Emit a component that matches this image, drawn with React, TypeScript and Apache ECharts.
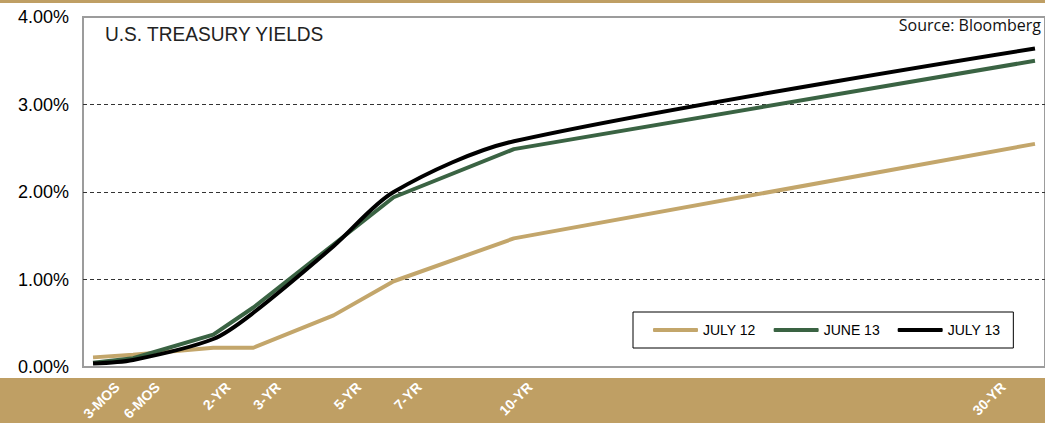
import React, { useEffect, useRef } from "react";
import * as echarts from "echarts";

// Category slots of the chart's maturity axis (blank slots keep Excel's uneven spacing)
const categories = [
  "3-MOS", "", "6-MOS", "", "", "", "2-YR", "", "3-YR", "", "", "", "5-YR", "", "", "7-YR",
  "", "", "", "", "", "10-YR", "", "", "", "", "", "", "", "", "", "",
  "", "", "", "", "", "", "", "", "", "", "", "", "", "", "", "30-YR",
];
const tenors = ["3-MOS", "6-MOS", "2-YR", "3-YR", "5-YR", "7-YR", "10-YR", "30-YR"];
const july12 = [0.11, 0.14, 0.22, 0.22, 0.59, 0.98, 1.47, 2.55];
const june13 = [0.05, 0.1, 0.37, 0.68, 1.4, 1.94, 2.49, 3.5];
const july13 = [0.04, 0.08, 0.32, 0.62, 1.38, 2.0, 2.58, 3.64];
const seriesNames = ["JULY 12", "JUNE 13", "JULY 13"];
const yTicks = [0, 1, 2, 3, 4];

// Tick label slots for the rotated tenor labels
const tickLabels = (() => {
  const arr: string[] = new Array(89).fill("");
  const at = [0, 4, 11, 16, 24, 30, 41, 88];
  tenors.forEach((t, i) => (arr[at[i]] = t));
  return arr;
})();

const toSlots = (vals: number[]) =>
  categories.map((c) => {
    const i = tenors.indexOf(c);
    return i >= 0 ? vals[i] : null;
  });

const FONT = "'Liberation Sans', Arial, sans-serif";

export default function App() {
  const ref = useRef<HTMLDivElement>(null);
  useEffect(() => {
    if (!ref.current) return;
    const chart = echarts.init(ref.current, null, { renderer: "svg" });
    const colors = ["#C3A66B", "#3A6343", "#000000"];
    const data = [july12, june13, july13];
    chart.setOption({
      animation: false,
      backgroundColor: "#ffffff",
      graphic: [
        { type: "rect", z: -10, shape: { x: 0, y: 0, width: 1045, height: 3 }, style: { fill: "#BF9F64" } },
        { type: "rect", z: -10, shape: { x: 0, y: 378, width: 1045, height: 45 }, style: { fill: "#BF9F64" } },
        {
          type: "text",
          x: 105,
          y: 23,
          scaleX: 0.91,
          style: { text: "U.S. TREASURY YIELDS", fontSize: 21, fontFamily: FONT, fill: "#222" },
        },
        {
          type: "text",
          x: 1041,
          y: 17,
          style: {
            text: "Source: Bloomberg",
            fontSize: 16,
            fontFamily: "'Open Sans', 'Noto Sans', sans-serif",
            fill: "#111",
            align: "right",
          },
        },
      ],
      legend: {
        left: 633,
        top: 312,
        orient: "horizontal",
        borderColor: "#000",
        borderWidth: 1,
        padding: [11, 13, 11, 20],
        itemWidth: 45,
        itemHeight: 4,
        itemGap: 18,
        icon: "roundRect",
        data: seriesNames,
        textStyle: { fontSize: 14, color: "#000", fontFamily: FONT },
      },
      grid: [
        { left: 83, top: 17, width: 962, height: 350, show: true, borderColor: "#9c9c9c", borderWidth: 2 },
        { left: 117, top: 17, width: 886, height: 350 },
      ],
      xAxis: [
        {
          type: "category",
          gridIndex: 0,
          data: categories,
          boundaryGap: [0.01, 0],
          axisLine: { show: false },
          axisTick: { show: false },
          axisLabel: { show: false },
          splitLine: { show: false },
        },
        {
          type: "category",
          gridIndex: 1,
          data: tickLabels,
          boundaryGap: false,
          axisLine: { show: false },
          axisTick: { show: false },
          splitLine: { show: false },
          axisLabel: {
            interval: 0,
            rotate: 45,
            color: "#fff",
            fontWeight: "bold",
            fontSize: 14,
            fontFamily: FONT,
            margin: 20,
          },
        },
      ],
      yAxis: [
        {
          type: "value",
          gridIndex: 0,
          min: yTicks[0],
          max: yTicks[yTicks.length - 1],
          interval: 1,
          axisLine: { show: false },
          axisTick: { show: false },
          axisLabel: {
            formatter: (v: number) => v.toFixed(2) + "%",
            fontSize: 18,
            color: "#000",
            fontFamily: FONT,
            margin: 14,
          },
          splitLine: {
            show: true,
            showMinLine: false,
            showMaxLine: false,
            lineStyle: { type: [4, 3], color: "#333", width: 1 },
          },
        },
        { type: "value", gridIndex: 1, min: 0, max: 4, show: false, splitLine: { show: false } },
      ],
      series: seriesNames.map((name, i) => ({
        name,
        type: "line",
        xAxisIndex: 0,
        yAxisIndex: 0,
        data: toSlots(data[i]),
        connectNulls: true,
        showSymbol: false,
        symbol: "none",
        smooth: i === 2 ? 0.3 : false,
        color: colors[i],
        lineStyle: { width: 4, color: colors[i] },
        z: 2 + i,
      })),
    });
    return () => chart.dispose();
  }, []);
  return (
    <div
      ref={ref}
      style={{ position: "fixed", left: 0, top: 0, width: 1045, height: 423 }}
    />
  );
}
